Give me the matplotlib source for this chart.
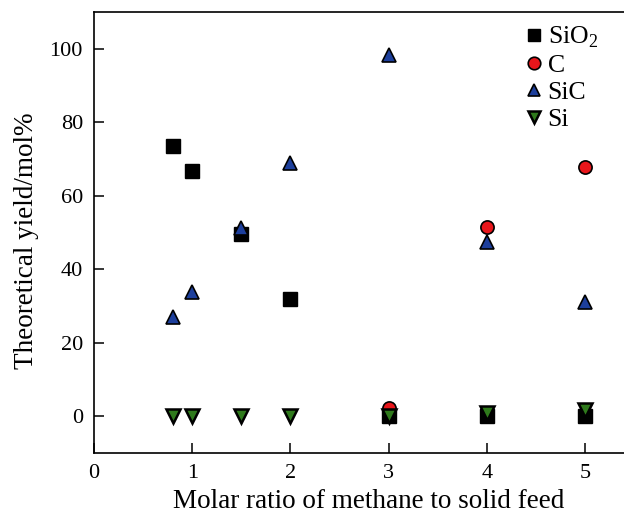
import matplotlib
matplotlib.use("Agg")
import matplotlib.pyplot as plt

# Molar ratio of methane to solid feed
ratio = [0.8, 1.0, 1.5, 2.0, 3.0, 4.0, 5.0]

# Theoretical yields, mol%
sio2 = [73.5, 66.7, 49.5, 31.8, 0.0, 0.0, 0.0]
carbon = [None, None, None, None, 2.2, 51.6, 67.9]
sic = [27.0, 33.7, 51.1, 68.9, 98.3, 47.3, 31.0]
si = [0.0, 0.0, 0.0, 0.0, 0.0, 1.0, 1.6]

plt.rcParams["font.family"] = ["Liberation Serif", "DejaVu Serif"]
plt.rcParams["mathtext.fontset"] = "custom"
plt.rcParams["mathtext.rm"] = "Liberation Serif"

W, H = 624, 515
fig = plt.figure(figsize=(W / 100, H / 100), dpi=100)
ax = fig.add_axes([94 / W, 1 - 453 / H, 1 - 94 / W, (453 - 12) / H])

def pts(xs, ys):
    pairs = [(x, y) for x, y in zip(xs, ys) if y is not None]
    return [p[0] for p in pairs], [p[1] for p in pairs]

ms = 9.5
ax.plot(*pts(ratio, sio2), "s", color="black", mec="black", ms=ms, label="SiO$_2$", zorder=3)
ax.plot(*pts(ratio, carbon), "o", color="#e8161b", mec="black", mew=1.2, ms=ms, label="C", zorder=4)
ax.plot(*pts(ratio, sic), "^", color="#1d3f9c", mec="black", mew=1.2, ms=ms, label="SiC", zorder=5)
ax.plot(*pts(ratio, si), "v", color="#2f7a1c", mec="black", mew=1.8, ms=ms, label="Si", zorder=6)

ax.set_xlim(0, 530 / 98.2)
ax.set_ylim(-10, 110)
ax.set_xticks([0, 1, 2, 3, 4, 5])
ax.set_yticks([0, 20, 40, 60, 80, 100])
ax.tick_params(direction="in", length=7, width=1.1, labelsize=16, pad=8)
ax.spines["right"].set_visible(False)
for s in ("left", "bottom", "top"):
    ax.spines[s].set_linewidth(1.2)

ax.set_xlabel("Molar ratio of methane to solid feed", fontsize=19.5, va="center")
ax.xaxis.set_label_coords((369 - 94) / 530, (453 - 502) / 441)
ax.set_ylabel("Theoretical yield/mol%", fontsize=19.5, va="center")
ax.yaxis.set_label_coords((27 - 94) / 530, (453 - 241) / 441)

leg = ax.legend(loc="upper right", bbox_to_anchor=(0.985, 1.012), frameon=False, fontsize=18.5,
                handlelength=0.7, handletextpad=0.2, labelspacing=0.15, borderaxespad=0.3,
                markerscale=0.95)

fig.savefig("out.png", dpi=100)
